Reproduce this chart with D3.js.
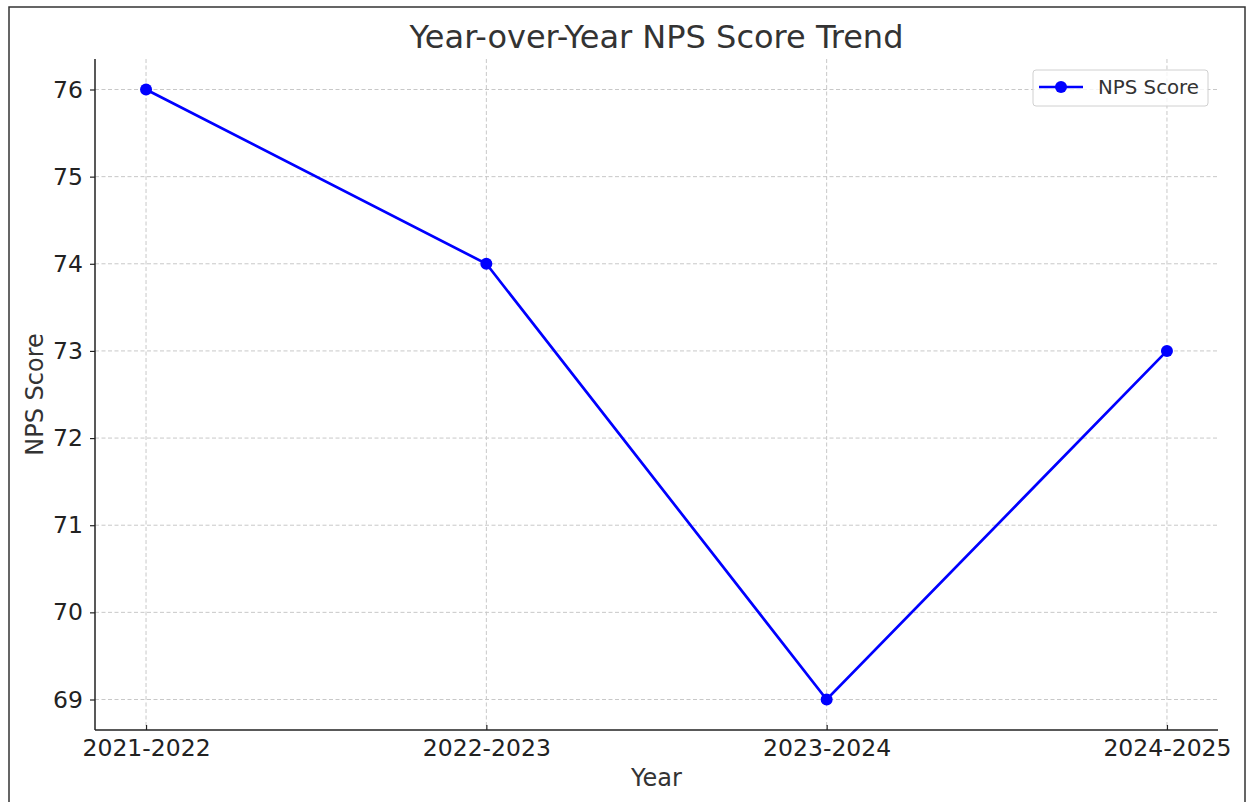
<!DOCTYPE html>
<html>
<head>
<meta charset="utf-8">
<script src="https://cdn.jsdelivr.net/npm/d3@7"></script>
<style>
  body { margin: 0; background: #fff; }
  svg { display: block; font-family: "DejaVu Sans", sans-serif; }
</style>
</head>
<body>
<div id="chart"></div>
<script>
const years = ['2021-2022', '2022-2023', '2023-2024', '2024-2025']
const npsScores = [76, 74, 69, 73]
const yTicks = [69, 70, 71, 72, 73, 74, 75, 76]

const width = 1247
const height = 802
const margin = { left: 95, right: 29, top: 59, bottom: 72 }

const svg = d3.select('#chart').append('svg')
  .attr('width', width)
  .attr('height', height)

// outer frame
svg.append('rect')
  .attr('x', 9).attr('y', 7)
  .attr('width', 1236).attr('height', 810)
  .attr('fill', 'none')
  .attr('stroke', '#333')
  .attr('stroke-width', 1.5)

const plotRight = width - margin.right
const plotBottom = height - margin.bottom

const step = (plotRight - margin.left) / (years.length - 1 + 0.3)
const x = d3.scalePoint()
  .domain(years)
  .range([margin.left + 0.15 * step, plotRight - 0.15 * step])

const y = d3.scaleLinear()
  .domain([68.65, 76.35])
  .range([plotBottom, margin.top])

// grid
svg.append('g')
  .selectAll('line')
  .data(yTicks)
  .join('line')
  .attr('x1', margin.left).attr('x2', plotRight)
  .attr('y1', d => y(d)).attr('y2', d => y(d))
  .attr('stroke', '#c8c8c8')
  .attr('stroke-width', 1)
  .attr('stroke-dasharray', '4,2.5')

svg.append('g')
  .selectAll('line')
  .data(years)
  .join('line')
  .attr('x1', d => x(d)).attr('x2', d => x(d))
  .attr('y1', margin.top).attr('y2', plotBottom)
  .attr('stroke', '#c8c8c8')
  .attr('stroke-width', 1)
  .attr('stroke-dasharray', '4,2.5')

// axes
const xAxis = svg.append('g')
  .attr('transform', `translate(0,${plotBottom})`)
  .call(d3.axisBottom(x).tickSize(5).tickPadding(6))
xAxis.select('.domain').attr('d', `M${margin.left},0H${plotRight}`).attr('stroke', '#222').attr('stroke-width', 1.5)
xAxis.selectAll('.tick line').attr('stroke', '#222').attr('stroke-width', 1.2).attr('y2', -5)
xAxis.selectAll('.tick text')
  .attr('font-size', 23.5)
  .attr('fill', '#222')
  .attr('font-family', '"DejaVu Sans", sans-serif')
  .attr('y', 9)

const yAxis = svg.append('g')
  .attr('transform', `translate(${margin.left},0)`)
  .call(d3.axisLeft(y).tickValues(yTicks).tickSize(5).tickPadding(7))
yAxis.select('.domain').attr('d', `M0,${margin.top}V${plotBottom}`).attr('stroke', '#222').attr('stroke-width', 1.5)
yAxis.selectAll('.tick line').attr('stroke', '#222').attr('stroke-width', 1.2)
yAxis.selectAll('.tick text')
  .attr('font-size', 23.5)
  .attr('fill', '#222')
  .attr('font-family', '"DejaVu Sans", sans-serif')

// line + markers
const line = d3.line()
  .x((d, i) => x(years[i]))
  .y(d => y(d))

svg.append('path')
  .datum(npsScores)
  .attr('d', line)
  .attr('fill', 'none')
  .attr('stroke', '#0000ff')
  .attr('stroke-width', 2.7)

svg.append('g')
  .selectAll('circle')
  .data(npsScores)
  .join('circle')
  .attr('cx', (d, i) => x(years[i]))
  .attr('cy', d => y(d))
  .attr('r', 6)
  .attr('fill', '#0000ff')

// title and labels
svg.append('text')
  .attr('x', (margin.left + plotRight) / 2)
  .attr('y', 48)
  .attr('text-anchor', 'middle')
  .attr('font-size', 32)
  .attr('fill', '#333')
  .text('Year-over-Year NPS Score Trend')

svg.append('text')
  .attr('x', (margin.left + plotRight) / 2)
  .attr('y', 786)
  .attr('text-anchor', 'middle')
  .attr('font-size', 24)
  .attr('fill', '#333')
  .text('Year')

svg.append('text')
  .attr('transform', `translate(43,${(margin.top + plotBottom) / 2}) rotate(-90)`)
  .attr('text-anchor', 'middle')
  .attr('font-size', 24)
  .attr('fill', '#333')
  .text('NPS Score')

// legend
const legend = svg.append('g').attr('transform', 'translate(1033,70)')
legend.append('rect')
  .attr('width', 175).attr('height', 36)
  .attr('rx', 3)
  .attr('fill', '#fff')
  .attr('fill-opacity', 0.8)
  .attr('stroke', '#d0d0d0')
legend.append('line')
  .attr('x1', 6).attr('x2', 50)
  .attr('y1', 17).attr('y2', 17)
  .attr('stroke', '#0000ff')
  .attr('stroke-width', 2.7)
legend.append('circle')
  .attr('cx', 28).attr('cy', 17).attr('r', 6)
  .attr('fill', '#0000ff')
legend.append('text')
  .attr('x', 65).attr('y', 24)
  .attr('font-size', 19.8)
  .attr('fill', '#333')
  .text('NPS Score')
</script>
</body>
</html>
